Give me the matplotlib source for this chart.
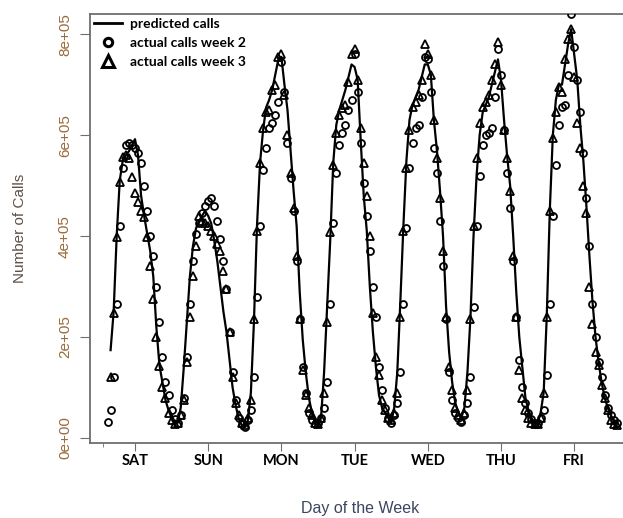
import matplotlib.pyplot as plt
import numpy as np
from matplotlib.lines import Line2D

# x axis is in hours from the start of Saturday; each day tick sits on its peak
days = ['SAT', 'SUN', 'MON', 'TUE', 'WED', 'THU', 'FRI']
day_ticks = [12, 36, 60, 84, 108, 132, 156]

# calls per hour, in thousands
pred_start = 4
predicted = [
    174, 250, 400, 510, 550, 560, 568, 580, 592, 560, 480, 440, 405, 370, 320, 220, 145, 110, 75, 55,            # sat
    40, 30, 30, 60, 140, 230, 320, 380, 415, 430, 440, 450, 440, 425, 390, 350, 300, 250, 210, 155, 100, 65, 38, 25,   # sun
    22, 35, 90, 230, 420, 545, 610, 655, 670, 690, 720, 750, 755, 700, 650, 570, 490, 420, 290, 195, 130, 80, 50, 30,  # mon
    25, 40, 130, 260, 390, 545, 620, 650, 670, 690, 715, 740, 735, 710, 590, 480, 410, 300, 210, 140, 85, 60, 50, 40,  # tue
    30, 60, 130, 270, 420, 550, 630, 660, 675, 690, 715, 740, 740, 720, 630, 570, 490, 400, 260, 170, 110, 70, 50, 40, # wed
    60, 130, 240, 400, 520, 600, 645, 660, 675, 700, 725, 750, 710, 630, 560, 500, 400, 290, 200, 140, 80, 55, 40, 30, # thu
    30, 50, 90, 240, 450, 600, 670, 700, 700, 740, 780, 810, 760, 710, 620, 550, 460, 360, 270, 200, 150, 110, 80, 60, 45, 35, 28,  # fri
]

wk2_start = 3
week2 = [
    32, 55, 120, 265, 420, 535, 580, 585, 580, 575, 565, 545, 500, 450, 400, 360, 300, 230, 160, 110, 85,
    55, 38, 30, 45, 80, 160, 265, 350, 405, 425, 445, 460, 470, 475, 460, 430, 395, 350, 295, 210, 130, 75, 40, 28,
    22, 35, 55, 120, 280, 420, 530, 575, 615, 625, 640, 665, 745, 685, 585, 515, 450, 350, 235, 140, 90, 50, 35, 28,
    30, 40, 60, 110, 265, 425, 525, 580, 605, 620, 650, 670, 760, 685, 585, 505, 440, 370, 300, 240, 140, 95, 60, 40,
    30, 45, 70, 130, 265, 415, 535, 585, 615, 620, 675, 755, 750, 685, 575, 525, 430, 340, 235, 130, 75, 50, 40, 32,
    45, 70, 120, 260, 420, 520, 580, 600, 605, 615, 675, 770, 720, 610, 525, 455, 350, 240, 155, 100, 70, 50, 38, 30,
    30, 40, 55, 125, 265, 440, 540, 620, 655, 660, 720, 840, 775, 710, 645, 565, 475, 380, 265, 200, 150, 120, 85, 60, 45, 35, 30,
]

wk3_start = 4
week3 = [
    120, 248, 398, 507, 557, 560, 555, 517, 485, 467, 450, 438, 398, 340, 275, 200, 143, 100, 80, 50,
    35, 28, 30, 45, 75, 150, 240, 320, 380, 440, 430, 425, 420, 410, 400, 385, 370, 330, 295, 210, 120, 70, 45, 30,
    25, 40, 75, 235, 410, 545, 615, 645, 650, 690, 700, 755, 760, 680, 600, 525, 455, 360, 235, 135, 85, 60, 45, 30,
    28, 40, 90, 230, 408, 540, 604, 640, 653, 660, 705, 760, 770, 710, 615, 545, 480, 400, 247, 160, 125, 75, 55, 40,
    35, 50, 90, 240, 410, 535, 610, 655, 665, 680, 710, 780, 760, 720, 630, 555, 475, 370, 240, 140, 95, 60, 45, 35,
    50, 95, 235, 420, 555, 625, 655, 665, 680, 710, 740, 785, 700, 610, 555, 490, 360, 240, 135, 80, 55, 40, 30, 28,
    28, 40, 90, 240, 450, 595, 645, 695, 685, 750, 790, 810, 715, 625, 575, 500, 445, 300, 225, 170, 145, 105, 80, 55, 35, 28, 25,
]

y_ticks = [0, 2e5, 4e5, 6e5, 8e5]
y_labels = ['0e+00', '2e+05', '4e+05', '6e+05', '8e+05']

fig = plt.figure(figsize=(6.23, 5.18), dpi=100)
ax = fig.add_axes([90 / 623, 75 / 518, 540 / 623, 429 / 518])

x_pred = np.arange(pred_start, pred_start + len(predicted))
x_wk2 = np.arange(wk2_start, wk2_start + len(week2))
x_wk3 = np.arange(wk3_start, wk3_start + len(week3))

ax.plot(x_pred, np.array(predicted) * 1000, color='black', lw=1.6, zorder=2)
ax.plot(x_wk2, np.array(week2) * 1000, 'o', mfc='none', mec='black', mew=1.3, ms=5, zorder=3)
ax.plot(x_wk3, np.array(week3) * 1000, '^', mfc='none', mec='black', mew=1.3, ms=6, zorder=3)

ax.set_xlim(-2.75, 174.3)
ax.set_ylim(-1e4, 8.4e5)

axis_grey = '#6e6e6e'
for side in ax.spines:
    ax.spines[side].set_color(axis_grey)
    ax.spines[side].set_linewidth(1.3)

ax.set_xticks(day_ticks)
ax.set_xticklabels(days, family='Lato', fontweight='bold', fontsize=10.5)
ax.set_xticks([1.5], minor=True)
ax.tick_params(axis='x', which='major', length=6, color=axis_grey, pad=2)
ax.tick_params(axis='x', which='minor', length=3, color=axis_grey)

ax.set_yticks(y_ticks)
ax.set_yticklabels(y_labels, family='Liberation Sans', fontsize=11,
                   color='#9a6a3a', rotation=90, va='center')
ax.tick_params(axis='y', length=7, color=axis_grey, pad=6)

ax.set_ylabel('Number of Calls', family='Liberation Sans', fontsize=11,
              color='#5e5044', labelpad=22)
ax.set_xlabel('Day of the Week', family='Liberation Sans', fontsize=11.5,
              color='#3c4660', labelpad=24)

handles = [
    Line2D([], [], color='black', lw=2),
    Line2D([], [], ls='none', marker='o', mfc='none', mec='black', mew=2.2, ms=6),
    Line2D([], [], ls='none', marker='^', mfc='none', mec='black', mew=2.2, ms=8),
]
labels = ['predicted calls', 'actual calls week 2', 'actual calls week 3']
ax.legend(handles, labels, loc='upper left', frameon=False,
          prop={'family': 'Lato', 'weight': 'bold', 'size': 10},
          handlelength=2.0, handletextpad=0.6, labelspacing=0.5,
          borderpad=0.0, borderaxespad=0.3)

fig.savefig('out.png', dpi=100)
